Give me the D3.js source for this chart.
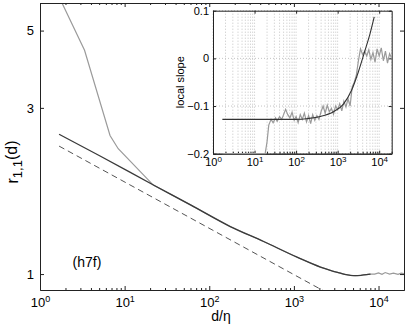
<!DOCTYPE html>
<html><head><meta charset="utf-8">
<script src="https://cdn.jsdelivr.net/npm/d3@7"></script>
<style>
body{margin:0;background:#fff;}
svg{display:block;font-family:"Liberation Sans",Arial,Helvetica,sans-serif;}
</style></head>
<body><svg id="c" width="407" height="330"></svg>
<script>
// ---- main panel data ----
const darkD  = [1.68, 5, 23, 60, 177, 439, 1091, 2060, 2800, 3550, 4000, 4660, 5300, 6200, 7200, 8040];
const darkR  = [2.52, 2.19, 1.79, 1.58, 1.369, 1.240, 1.118, 1.047, 1.022, 1.006, 0.998, 0.992, 0.990, 0.992, 0.996, 1.0];
const grayD  = [1.68, 3.36, 6.72, 8.4, 21.8, 60, 177, 439, 1091, 2060, 2800, 3550, 4000, 4660, 5300, 6200, 7200, 8040, 9000, 10000, 11000, 12000, 13500, 15000, 17000, 18500, 20000];
const grayR  = [6.25, 4.39, 2.5, 2.29, 1.80, 1.58, 1.369, 1.240, 1.118, 1.047, 1.022, 1.006, 0.998, 0.992, 0.990, 0.992, 0.996, 1.0, 1.0, 1.008, 0.998, 1.01, 1.0, 1.006, 0.998, 1.006, 1.003];
const dashD  = [1.68, 3000];
const dashR  = [2.33, 0.861];
const mainYTicks = [1, 3, 5];
const xDecades = [1, 10, 100, 1000, 10000];

// ---- inset data (local slope) ----
const slopeD = [1.68, 10, 18, 20, 22, 25, 28, 32, 35, 40, 45, 50, 56, 63, 71, 80, 90, 100, 112, 126, 141, 158, 178, 200, 224, 251, 282, 316, 355, 398, 447, 501, 562, 631, 708, 794, 891, 1000, 1122, 1259, 1413, 1585, 1778, 1995, 2239, 2512, 2818, 3162, 3548, 3981, 4467, 5012, 5623, 6310, 7079, 7943, 8913, 10000, 11220, 12589, 14125, 15849, 17783, 19953];
const slopeV = [-0.2, -0.2, -0.2, -0.175, -0.14, -0.128, -0.135, -0.125, -0.132, -0.122, -0.128, -0.118, -0.107, -0.118, -0.125, -0.113, -0.13, -0.122, -0.135, -0.118, -0.128, -0.115, -0.133, -0.12, -0.137, -0.118, -0.13, -0.12, -0.128, -0.112, -0.1, -0.115, -0.098, -0.112, -0.105, -0.117, -0.1, -0.108, -0.095, -0.11, -0.09, -0.102, -0.085, -0.1, -0.06, -0.05, -0.035, -0.005, 0.02, 0.008, 0.015, 0.005, 0.018, -0.002, 0.012, -0.008, 0.02, 0.005, 0.022, -0.005, 0.015, -0.01, 0.01, 0.0];
const fitD = [1.68, 100, 200, 380, 794, 1380, 2190, 3160, 4570, 6030, 7590];
const fitV = [-0.128, -0.128, -0.126, -0.122, -0.112, -0.096, -0.066, -0.028, 0.017, 0.052, 0.087];
const insetYTicks = [-0.2, -0.1, 0, 0.1];
const insetYLabels = ["\u22120.2", "\u22120.1", "0", "0.1"];

const svg = d3.select("#c");
const M = {l:40, r:404, t:3, b:290};
const I = {l:213, r:391.7, t:10.7, b:153.7};
const axisCol = "#222";

const minors = [];
for (let e = 0; e <= 4; e++) for (let k = 2; k <= 9; k++) { const v = k * Math.pow(10, e); if (v <= 20000) minors.push(v); }

function supLabels(g, size) {
  g.selectAll(".tick text").each(function(d){
    const t = d3.select(this); t.text(null);
    t.append("tspan").text("10");
    t.append("tspan").attr("dy", "-0.55em").attr("font-size", size).text(Math.round(Math.log10(d)));
  });
}
function styleAxis(g) {
  g.select(".domain").attr("stroke", axisCol);
  g.selectAll(".tick line").attr("stroke", axisCol);
  g.selectAll(".tick text").attr("fill", "#000");
}

// ---------- main panel ----------
const x = d3.scaleLog().domain([1, 20000]).range([M.l, M.r]);
const y = d3.scaleLog().domain([0.9, 6]).range([M.b, M.t]);

svg.append("defs").append("clipPath").attr("id", "mclip")
  .append("rect").attr("x", M.l).attr("y", M.t).attr("width", M.r - M.l).attr("height", M.b - M.t);

const lineM = d3.line().x(d => x(d[0])).y(d => y(d[1])).curve(d3.curveMonotoneX);
const lineL = d3.line().x(d => x(d[0])).y(d => y(d[1]));
const gm = svg.append("g").attr("clip-path", "url(#mclip)");
gm.append("path").datum(grayD.map((d, i) => [d, grayR[i]])).attr("d", lineL)
  .attr("fill", "none").attr("stroke", "#9a9a9a").attr("stroke-width", 1.2);
gm.append("path").datum(darkD.map((d, i) => [d, darkR[i]])).attr("d", lineM)
  .attr("fill", "none").attr("stroke", "#3a3a3a").attr("stroke-width", 1.3);
gm.append("path").datum(dashD.map((d, i) => [d, dashR[i]])).attr("d", lineL)
  .attr("fill", "none").attr("stroke", "#555").attr("stroke-width", 1).attr("stroke-dasharray", "6,4");

// axes main
const fs = 13;
let g;
g = svg.append("g").attr("transform", `translate(0,${M.b})`)
  .call(d3.axisBottom(x).tickValues(minors).tickSizeInner(-2).tickSizeOuter(0).tickFormat(""));
styleAxis(g);
g = svg.append("g").attr("transform", `translate(0,${M.b})`)
  .call(d3.axisBottom(x).tickValues(xDecades).tickSizeInner(-4).tickSizeOuter(0).tickPadding(8))
  .attr("font-size", fs).attr("font-family", null);
styleAxis(g); supLabels(g, 9);
g = svg.append("g").attr("transform", `translate(0,${M.t})`)
  .call(d3.axisTop(x).tickValues(minors).tickSizeInner(-2).tickSizeOuter(0).tickFormat(""));
styleAxis(g);
g = svg.append("g").attr("transform", `translate(0,${M.t})`)
  .call(d3.axisTop(x).tickValues(xDecades).tickSizeInner(-4).tickSizeOuter(0).tickFormat(""));
styleAxis(g);
g = svg.append("g").attr("transform", `translate(${M.l},0)`)
  .call(d3.axisLeft(y).tickValues(mainYTicks).tickSizeInner(-4).tickSizeOuter(0).tickPadding(6).tickFormat(d3.format("d")))
  .attr("font-size", fs).attr("font-family", null);
styleAxis(g);
g = svg.append("g").attr("transform", `translate(${M.r},0)`)
  .call(d3.axisRight(y).tickValues(mainYTicks).tickSizeInner(-4).tickSizeOuter(0).tickFormat(""));
styleAxis(g);

// texts main
svg.append("text").attr("x", 87).attr("y", 267).attr("text-anchor", "middle").attr("font-size", 14).text("(h7f)");
svg.append("text").attr("x", 221).attr("y", 321).attr("text-anchor", "middle").attr("font-size", 14).text("d/\u03b7");
const yl = svg.append("text").attr("transform", "translate(18,162) rotate(-90)").attr("text-anchor", "middle").attr("font-size", 16);
yl.append("tspan").text("r");
yl.append("tspan").attr("dy", "0.3em").attr("font-size", 13).text("1,1");
yl.append("tspan").attr("dy", "-0.3em").text("(d)");

// ---------- inset ----------
const xi = d3.scaleLog().domain([1, 20000]).range([I.l, I.r]);
const yi = d3.scaleLinear().domain([-0.2, 0.1]).range([I.b, I.t]);
svg.append("rect").attr("x", I.l).attr("y", I.t).attr("width", I.r - I.l).attr("height", I.b - I.t).attr("fill", "#fff");
svg.append("defs").append("clipPath").attr("id", "iclip")
  .append("rect").attr("x", I.l).attr("y", I.t - 1).attr("width", I.r - I.l).attr("height", I.b - I.t + 2);

// grid
const gridX = [1].concat(minors, [10, 100, 1000, 10000]);
const gg = svg.append("g");
gg.selectAll("line.vx").data(gridX).join("line")
  .attr("x1", d => xi(d)).attr("x2", d => xi(d)).attr("y1", I.t).attr("y2", I.b)
  .attr("stroke", "#c4c4c4").attr("stroke-width", 1).attr("stroke-dasharray", "1,2");
gg.selectAll("line.hy").data(insetYTicks).join("line")
  .attr("x1", I.l).attr("x2", I.r).attr("y1", d => yi(d)).attr("y2", d => yi(d))
  .attr("stroke", "#c4c4c4").attr("stroke-width", 1).attr("stroke-dasharray", "1,2");

const lineIL = d3.line().x(d => xi(d[0])).y(d => yi(d[1]));
const lineIM = d3.line().x(d => xi(d[0])).y(d => yi(d[1])).curve(d3.curveMonotoneX);

// axes inset (box)
const ifs = 11;
g = svg.append("g").attr("transform", `translate(0,${I.b})`)
  .call(d3.axisBottom(xi).tickValues(minors).tickSizeInner(-2).tickSizeOuter(0).tickFormat(""));
styleAxis(g);
g = svg.append("g").attr("transform", `translate(0,${I.b})`)
  .call(d3.axisBottom(xi).tickValues(xDecades).tickSizeInner(-3).tickSizeOuter(0).tickPadding(5))
  .attr("font-size", ifs).attr("font-family", null);
styleAxis(g); supLabels(g, 8);
g = svg.append("g").attr("transform", `translate(0,${I.t})`)
  .call(d3.axisTop(xi).tickValues(xDecades).tickSizeInner(-3).tickSizeOuter(0).tickFormat(""));
styleAxis(g);
g = svg.append("g").attr("transform", `translate(${I.l},0)`)
  .call(d3.axisLeft(yi).tickValues(insetYTicks).tickSizeInner(-3).tickSizeOuter(0).tickPadding(4)
    .tickFormat((d, i) => insetYLabels[i]))
  .attr("font-size", ifs).attr("font-family", null);
styleAxis(g);
g = svg.append("g").attr("transform", `translate(${I.r},0)`)
  .call(d3.axisRight(yi).tickValues(insetYTicks).tickSizeInner(-3).tickSizeOuter(0).tickFormat(""));
styleAxis(g);

const gi = svg.append("g").attr("clip-path", "url(#iclip)");
gi.append("path").datum(slopeD.map((d, i) => [d, slopeV[i]])).attr("d", lineIL)
  .attr("fill", "none").attr("stroke", "#9a9a9a").attr("stroke-width", 1.2);
gi.append("path").datum(fitD.map((d, i) => [d, fitV[i]])).attr("d", lineIM)
  .attr("fill", "none").attr("stroke", "#333").attr("stroke-width", 1.1);

svg.append("text").attr("transform", `translate(184,${(I.t + I.b) / 2}) rotate(-90)`)
  .attr("text-anchor", "middle").attr("font-size", 11).text("local slope");
</script></body></html>
